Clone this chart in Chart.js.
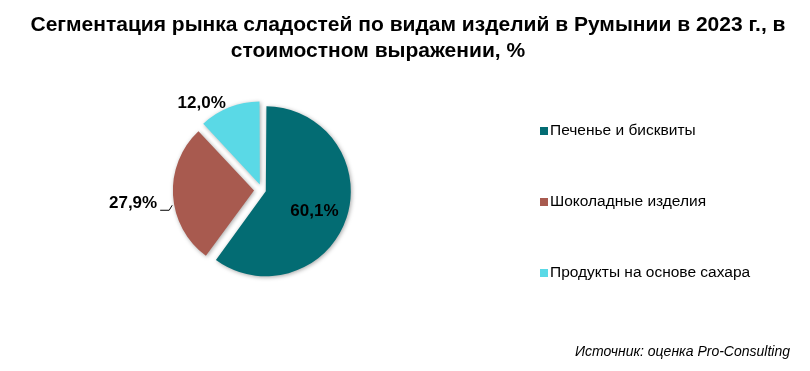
<!DOCTYPE html>
<html>
<head>
<meta charset="utf-8">
<script src="https://cdn.jsdelivr.net/npm/chart.js@4.4.1/dist/chart.umd.min.js"></script>
<style>
  html, body { margin: 0; padding: 0; background: #fff; }
  #wrap { width: 810px; height: 371px; position: relative; }
</style>
</head>
<body>
<div id="wrap"><canvas id="grafico" width="810" height="371"></canvas></div>
<script>
const titulo = ["Сегментация рынка сладостей по видам изделий в Румынии в 2023 г., в", "стоимостном выражении, %"];
const categorias = ["Печенье и бисквиты", "Шоколадные изделия", "Продукты на основе сахара"];
const valores = [60.1, 27.9, 12.0];
const cores = ["#036C73", "#A85A4F", "#5AD9E6"];
const fonte = "Источник: оценка Pro-Consulting";

const FAMILIA = "Arial, 'Liberation Sans', sans-serif";

function fmt(v){
    return v.toFixed(1).replace(".", ",") + "%";
}

// sombra leve nas fatias
const sombra = {
    id: "sombra",
    beforeDatasetsDraw(chart){
        const ctx = chart.ctx;
        ctx.save();
        ctx.shadowColor = "rgba(0,0,0,0.35)";
        ctx.shadowBlur = 4;
        ctx.shadowOffsetX = 1;
        ctx.shadowOffsetY = 1;
    },
    afterDatasetsDraw(chart){
        chart.ctx.restore();
    }
};

// textos: titulo, rotulos, legenda, fonte
const textos = {
    id: "textos",
    afterDraw(chart){
        const ctx = chart.ctx;
        ctx.save();

        // titulo
        ctx.fillStyle = "#000";
        ctx.font = "bold 21px " + FAMILIA;
        ctx.textAlign = "center";
        ctx.textBaseline = "middle";
        ctx.fillText(titulo[0], 408, 25);
        ctx.fillText(titulo[1], 378, 51);

        // rotulos das fatias
        const arcs = chart.getDatasetMeta(0).data;
        ctx.font = "bold 17px " + FAMILIA;
        arcs.forEach((arc, i) => {
            const meio = (arc.startAngle + arc.endAngle) / 2;
            const cx = Math.cos(meio), cy = Math.sin(meio);
            const texto = fmt(valores[i]);
            if(i === 0){
                const d = arc.outerRadius * 0.72;
                ctx.textAlign = "center";
                ctx.fillText(texto, arc.x + cx * d - 3, arc.y + cy * d + 3);
            }else if(i === 1){
                const d = arc.outerRadius + 24;
                const x = arc.x + cx * d;
                const y = arc.y + cy * d + 7;
                ctx.textAlign = "right";
                ctx.fillText(texto, x, y);
                ctx.strokeStyle = "#000";
                ctx.lineWidth = 1;
                ctx.beginPath();
                ctx.moveTo(x + 3, y + 7);
                ctx.lineTo(x + 12, y + 7);
                ctx.lineTo(x + 15, y + 2);
                ctx.stroke();
            }else{
                const d = arc.outerRadius + 12;
                ctx.textAlign = "right";
                ctx.fillText(texto, arc.x + cx * d - 2, arc.y + cy * d);
            }
        });

        // legenda
        ctx.font = "15.5px " + FAMILIA;
        ctx.textAlign = "left";
        categorias.forEach((c, i) => {
            const y = 131 + i * 71;
            ctx.fillStyle = cores[i];
            ctx.fillRect(540, y - 4, 8, 8);
            ctx.fillStyle = "#000";
            ctx.fillText(c, 550, y);
        });

        // fonte
        ctx.font = "italic 14px " + FAMILIA;
        ctx.textAlign = "right";
        ctx.fillText(fonte, 790, 352);

        ctx.restore();
    }
};

new Chart(document.getElementById("grafico"), {
    type: "pie",
    data: {
        labels: categorias,
        datasets: [{
            data: valores,
            backgroundColor: cores,
            borderWidth: 0,
            // deslocamento por fatia (Chart.js divide internamente)
            offset: [16, 32, 24],
            hoverOffset: 0
        }]
    },
    options: {
        responsive: false,
        animation: false,
        events: [],
        layout: {
            padding: { left: 165, right: 451, top: 93, bottom: 84 }
        },
        plugins: {
            legend: { display: false },
            tooltip: { enabled: false },
            title: { display: false }
        }
    },
    plugins: [sombra, textos]
});
</script>
</body>
</html>
